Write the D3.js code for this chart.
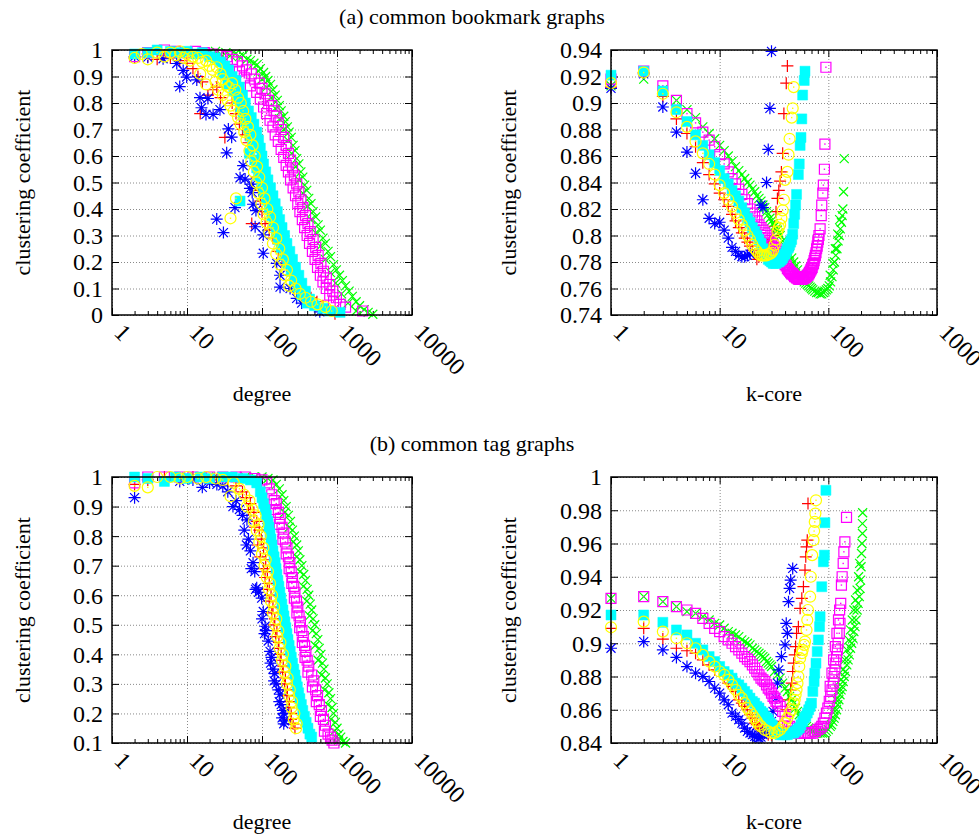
<!DOCTYPE html>
<html>
<head>
<meta charset="utf-8">
<script src="https://cdn.jsdelivr.net/npm/d3@7"></script>
<style>
  body { margin: 0; background: #fff; }
  svg { display: block; }
  text { font-family: "Liberation Serif", "Times New Roman", "DejaVu Serif", serif; }
</style>
</head>
<body>
<svg id="chart" width="979" height="839"></svg>
<script>
// ---------- tick labels ----------
const degreeTicks = [1, 10, 100, 1000, 10000];
const kcoreTicks = [1, 10, 100, 1000];
const bdYTicks = [0, 0.1, 0.2, 0.3, 0.4, 0.5, 0.6, 0.7, 0.8, 0.9, 1];
const bkYTicks = [0.74, 0.76, 0.78, 0.8, 0.82, 0.84, 0.86, 0.88, 0.9, 0.92, 0.94];
const tdYTicks = [0.1, 0.2, 0.3, 0.4, 0.5, 0.6, 0.7, 0.8, 0.9, 1];
const tkYTicks = [0.84, 0.86, 0.88, 0.9, 0.92, 0.94, 0.96, 0.98, 1];

// ---------- (a) bookmark graphs: degree vs clustering ----------
const bdRed = [[2,0.97],[3,0.975],[4,0.965],[5,0.98],[6,0.97],[8,0.96],[10,0.95],[12,0.93],[14,0.9],[16,0.88],[19,0.83],[15,0.76],[22,0.85],[25,0.86],[28,0.82],[32,0.67],[40,0.8],[45,0.76],[50,0.72],[55,0.7],[60,0.68],[66,0.65],[76,0.64],[81,0.56],[85,0.52],[90,0.47],[95,0.43],[100,0.39],[73,0.345],[110,0.345],[125,0.32],[140,0.29],[165,0.24],[185,0.21],[212,0.185],[240,0.15],[290,0.13],[330,0.1],[375,0.08],[450,0.065],[540,0.05],[650,0.035],[940,0.005]];
const bdGreen = [[20,0.99],[24,0.995],[28,0.985],[33,0.99],[38,0.98],[44,0.985],[50,0.975],[56,0.98],[63,0.965],[70,0.96],[78,0.95],[86,0.945],[95,0.93],[90,0.92],[105,0.915],[112,0.9],[100,0.89],[120,0.885],[130,0.87],[115,0.86],[140,0.85],[150,0.83],[132,0.82],[160,0.81],[170,0.79],[150,0.78],[180,0.77],[195,0.75],[172,0.74],[205,0.73],[218,0.71],[195,0.7],[230,0.69],[245,0.67],[220,0.66],[260,0.64],[275,0.62],[248,0.61],[290,0.59],[310,0.57],[280,0.56],[330,0.54],[350,0.52],[310,0.51],[370,0.49],[395,0.47],[350,0.46],[420,0.44],[450,0.42],[400,0.41],[480,0.39],[520,0.37],[450,0.36],[560,0.34],[600,0.32],[520,0.31],[650,0.29],[700,0.27],[600,0.26],[760,0.24],[820,0.22],[700,0.21],[900,0.19],[980,0.17],[820,0.16],[1080,0.15],[1180,0.13],[960,0.12],[1300,0.11],[1450,0.09],[1150,0.08],[1600,0.07],[1800,0.05],[1400,0.045],[2000,0.035],[2300,0.02],[1800,0.015],[2600,0.01],[3000,0.003]];
const bdBlue = [[2,0.975],[3,0.973],[4.8,0.967],[7.3,0.949],[8.9,0.923],[9.9,0.898],[8,0.862],[13.5,0.887],[14.9,0.82],[19,0.817],[15.6,0.782],[17.9,0.757],[22.3,0.757],[27.5,0.775],[35.6,0.702],[39.4,0.671],[33.8,0.612],[24.9,0.362],[30.6,0.311],[43.6,0.405],[51,0.518],[59.5,0.513],[56,0.564],[69,0.478],[73,0.494],[74,0.462],[76,0.418],[83,0.394],[81,0.333],[104,0.302],[104,0.233],[157,0.195],[174,0.15],[174,0.105],[237,0.1],[290,0.063],[338,0.045],[590,0.012]];
const bdMagenta = [[2,0.975],[3,0.99],[5,1.0],[7,0.995],[10,0.99],[13,0.995],[17,0.99],[22,0.985],[28,0.98],[34,0.975],[40,0.965],[47,0.955],[55,0.94],[50,0.92],[62,0.925],[72,0.91],[58,0.895],[80,0.89],[92,0.875],[70,0.865],[100,0.855],[85,0.84],[110,0.835],[95,0.815],[122,0.81],[135,0.79],[105,0.785],[145,0.77],[115,0.76],[155,0.75],[128,0.735],[165,0.725],[140,0.71],[180,0.7],[150,0.68],[195,0.67],[165,0.655],[210,0.64],[180,0.625],[225,0.61],[195,0.595],[240,0.585],[210,0.565],[255,0.555],[225,0.54],[270,0.525],[240,0.51],[290,0.495],[260,0.48],[310,0.465],[280,0.45],[330,0.435],[300,0.42],[350,0.405],[320,0.39],[380,0.375],[345,0.36],[410,0.345],[370,0.33],[440,0.315],[400,0.3],[480,0.285],[430,0.27],[520,0.255],[470,0.24],[560,0.225],[510,0.21],[610,0.195],[550,0.18],[660,0.165],[600,0.15],[720,0.14],[650,0.125],[800,0.115],[720,0.1],[880,0.09],[800,0.075],[980,0.065],[900,0.05],[1100,0.04],[1300,0.03],[2200,0.015]];
const bdCyan = [[2,0.985],[3,0.99],[4,1.0],[6,0.995],[8,0.99],[10,0.995],[13,0.985],[16,0.99],[20,0.975],[24,0.97],[28,0.955],[32,0.94],[36,0.925],[30,0.91],[40,0.9],[45,0.885],[35,0.87],[50,0.86],[42,0.845],[55,0.83],[48,0.815],[60,0.8],[52,0.785],[66,0.77],[56,0.755],[72,0.745],[60,0.73],[78,0.72],[65,0.705],[85,0.69],[70,0.675],[90,0.66],[75,0.645],[95,0.63],[68,0.61],[100,0.6],[80,0.585],[105,0.57],[85,0.555],[112,0.54],[90,0.525],[120,0.51],[98,0.495],[130,0.48],[105,0.465],[140,0.45],[51,0.43],[115,0.435],[150,0.42],[125,0.405],[160,0.39],[135,0.375],[172,0.36],[145,0.345],[185,0.33],[155,0.315],[200,0.3],[165,0.285],[215,0.27],[180,0.255],[235,0.24],[200,0.225],[255,0.21],[220,0.195],[280,0.18],[245,0.165],[310,0.15],[270,0.135],[340,0.12],[300,0.105],[380,0.09],[340,0.075],[430,0.06],[400,0.045],[500,0.035],[650,0.025],[800,0.015],[1100,0.01]];
const bdYellow = [[2,0.97],[2.5,0.985],[3,0.965],[4,0.99],[5,0.975],[6,0.99],[7,0.98],[8,0.995],[9,0.97],[10,0.985],[11,0.96],[12,0.975],[14,0.97],[16,0.955],[18,0.96],[20,0.94],[15,0.91],[22,0.925],[25,0.935],[28,0.91],[18,0.87],[24,0.88],[30,0.89],[33,0.87],[26,0.85],[36,0.86],[40,0.875],[30,0.83],[44,0.85],[35,0.81],[48,0.82],[38,0.79],[52,0.8],[42,0.77],[56,0.77],[48,0.745],[60,0.74],[52,0.72],[65,0.71],[58,0.69],[70,0.68],[62,0.66],[75,0.64],[68,0.62],[80,0.6],[72,0.58],[86,0.56],[78,0.54],[92,0.52],[84,0.5],[100,0.48],[90,0.46],[108,0.44],[98,0.42],[118,0.4],[105,0.38],[128,0.37],[45,0.44],[38,0.365],[115,0.35],[140,0.33],[125,0.31],[155,0.29],[140,0.27],[170,0.25],[155,0.23],[190,0.21],[175,0.19],[215,0.17],[200,0.15],[245,0.13],[230,0.11],[280,0.1],[320,0.08],[380,0.065],[450,0.05],[550,0.04],[700,0.03],[850,0.015]];

// ---------- (a) bookmark graphs: k-core vs clustering ----------
const bkRed = [[1,0.912],[2,0.923],[3,0.905],[4,0.888],[5,0.877],[6,0.867],[7,0.855],[8,0.846],[9,0.839],[10,0.832],[11,0.827],[12,0.822],[13,0.816],[14,0.811],[15,0.806],[16,0.802],[17,0.798],[18,0.795],[19,0.792],[20,0.789],[21,0.786],[22,0.782],[23,0.784],[24,0.786],[25,0.787],[26,0.788],[27,0.79],[28,0.792],[29,0.795],[30,0.797],[31,0.8],[32,0.807],[33,0.818],[34,0.828],[35,0.834],[36,0.841],[37,0.848],[38,0.862],[39,0.892],[41,0.915],[42,0.928]];
const bkGreen = [[1,0.913],[2,0.918],[3,0.91],[4,0.902],[5,0.895],[6,0.889],[7,0.882],[8,0.877],[9,0.873],[10,0.868],[11,0.864],[12,0.86],[13,0.856],[14,0.852],[15,0.849],[16,0.846],[17,0.843],[18,0.84],[19,0.838],[20,0.835],[21,0.833],[22,0.83],[23,0.828],[24,0.826],[25,0.823],[26,0.821],[27,0.818],[28,0.816],[29,0.813],[30,0.811],[31,0.809],[32,0.807],[33,0.805],[34,0.804],[35,0.802],[36,0.8],[38,0.796],[40,0.792],[42,0.789],[44,0.786],[46,0.783],[48,0.78],[50,0.777],[52,0.774],[54,0.771],[56,0.769],[58,0.767],[60,0.765],[62,0.764],[64,0.763],[66,0.762],[68,0.761],[70,0.76],[72,0.759],[75,0.758],[78,0.757],[81,0.757],[84,0.756],[87,0.756],[90,0.757],[93,0.758],[96,0.759],[99,0.76],[102,0.762],[105,0.765],[108,0.769],[111,0.774],[114,0.78],[117,0.785],[120,0.79],[123,0.796],[126,0.8],[129,0.805],[132,0.81],[134,0.815],[136,0.82],[138,0.833],[140,0.858],[104,0.77],[110,0.779],[116,0.79],[122,0.801],[127,0.812]];
const bkBlue = [[1,0.911],[2,0.922],[3,0.897],[4,0.878],[5,0.863],[6,0.847],[7,0.827],[8,0.813],[9,0.809],[10,0.81],[11,0.804],[12,0.798],[13,0.791],[14,0.788],[15,0.785],[16,0.784],[17,0.784],[18,0.785],[19,0.786],[22,0.8],[24,0.823],[25,0.821],[27,0.84],[28,0.865],[29,0.896],[30,0.939]];
const bkMagenta = [[1,0.918],[2,0.924],[3,0.913],[4,0.902],[5,0.892],[6,0.885],[7,0.878],[8,0.872],[9,0.867],[10,0.861],[11,0.854],[12,0.848],[13,0.843],[14,0.839],[15,0.835],[16,0.831],[17,0.827],[18,0.824],[19,0.82],[20,0.817],[21,0.814],[22,0.811],[23,0.808],[24,0.806],[25,0.804],[26,0.802],[27,0.8],[28,0.798],[29,0.796],[30,0.794],[31,0.793],[32,0.791],[33,0.79],[34,0.788],[35,0.786],[36,0.785],[37,0.783],[38,0.781],[39,0.78],[40,0.778],[41,0.777],[42,0.775],[43,0.774],[44,0.773],[45,0.772],[46,0.771],[47,0.771],[48,0.77],[49,0.769],[50,0.769],[51,0.768],[52,0.768],[53,0.767],[54,0.767],[55,0.767],[56,0.767],[57,0.767],[58,0.767],[59,0.768],[60,0.768],[61,0.768],[62,0.769],[63,0.769],[64,0.77],[65,0.77],[66,0.771],[67,0.772],[68,0.773],[69,0.774],[70,0.775],[71,0.776],[72,0.778],[73,0.779],[74,0.781],[75,0.783],[76,0.785],[77,0.787],[78,0.79],[79,0.792],[80,0.795],[81,0.797],[82,0.8],[84,0.805],[86,0.815],[87,0.823],[89,0.832],[90,0.838],[92,0.85],[93,0.869],[95,0.927]];
const bkCyan = [[1,0.921],[2,0.924],[3,0.909],[4,0.895],[5,0.886],[6,0.876],[7,0.868],[8,0.861],[9,0.855],[10,0.849],[11,0.843],[12,0.839],[13,0.834],[14,0.83],[15,0.826],[16,0.821],[17,0.817],[18,0.813],[19,0.81],[20,0.806],[21,0.803],[22,0.8],[23,0.797],[24,0.794],[25,0.79],[26,0.787],[27,0.785],[28,0.782],[29,0.781],[30,0.78],[31,0.779],[32,0.779],[33,0.779],[34,0.78],[35,0.78],[36,0.781],[37,0.782],[38,0.783],[39,0.785],[40,0.786],[41,0.788],[42,0.79],[43,0.791],[44,0.793],[45,0.795],[46,0.797],[47,0.801],[48,0.809],[49,0.816],[50,0.823],[51,0.831],[53,0.846],[54,0.854],[55,0.868],[56,0.874],[57,0.888],[58,0.906],[60,0.917],[61,0.924]];
const bkYellow = [[1,0.915],[2,0.923],[3,0.907],[4,0.893],[5,0.882],[6,0.871],[7,0.862],[8,0.854],[9,0.846],[10,0.838],[11,0.832],[12,0.827],[13,0.822],[14,0.817],[15,0.812],[16,0.808],[17,0.804],[18,0.8],[19,0.797],[20,0.793],[21,0.79],[22,0.788],[23,0.786],[24,0.785],[25,0.785],[26,0.785],[27,0.785],[28,0.786],[29,0.786],[30,0.787],[31,0.789],[32,0.793],[33,0.797],[34,0.803],[35,0.806],[36,0.808],[37,0.813],[38,0.819],[39,0.827],[40,0.842],[42,0.848],[43,0.861],[44,0.873],[46,0.889],[47,0.896],[48,0.912]];

// ---------- (b) tag graphs: degree vs clustering ----------
const tdRed = [[2,0.975],[3,0.99],[5,1.0],[8,0.995],[12,1.0],[18,0.995],[25,0.99],[35,0.985],[45,0.97],[55,0.95],[62,0.93],[70,0.91],[66,0.89],[78,0.88],[85,0.85],[80,0.83],[92,0.82],[98,0.79],[88,0.77],[105,0.76],[95,0.73],[112,0.72],[105,0.69],[118,0.68],[110,0.66],[125,0.64],[118,0.62],[132,0.6],[125,0.58],[140,0.56],[135,0.54],[148,0.52],[145,0.5],[158,0.48],[152,0.46],[168,0.44],[165,0.42],[180,0.4],[175,0.38],[192,0.36],[188,0.34],[205,0.32],[200,0.3],[218,0.28],[215,0.26],[232,0.24],[228,0.22],[245,0.2],[242,0.18],[260,0.165],[275,0.15]];
const tdGreen = [[10,1.0],[15,1.0],[25,1.0],[40,1.0],[60,1.0],[80,1.0],[100,1.0],[120,0.995],[140,0.99],[155,0.975],[170,0.96],[185,0.94],[195,0.92],[210,0.9],[200,0.88],[225,0.87],[240,0.85],[230,0.83],[255,0.82],[270,0.8],[260,0.78],[290,0.77],[305,0.75],[290,0.73],[320,0.72],[340,0.7],[320,0.68],[360,0.67],[380,0.65],[355,0.63],[400,0.62],[420,0.6],[395,0.58],[440,0.57],[460,0.55],[430,0.53],[480,0.52],[505,0.5],[470,0.48],[530,0.47],[555,0.45],[510,0.43],[580,0.42],[610,0.4],[560,0.38],[640,0.37],[670,0.35],[620,0.33],[700,0.32],[740,0.3],[680,0.28],[780,0.27],[820,0.25],[750,0.23],[860,0.22],[900,0.2],[830,0.18],[950,0.17],[1000,0.15],[920,0.14],[1060,0.13],[1120,0.12],[1050,0.11],[1200,0.105],[1300,0.1]];
const tdBlue = [[2,0.93],[8,0.985],[12,0.99],[16,0.965],[20,0.98],[25,0.975],[30,0.97],[35,0.95],[41,0.9],[45,0.92],[50,0.89],[55,0.87],[63,0.855],[58,0.82],[66,0.79],[62,0.77],[70,0.75],[76,0.71],[72,0.69],[80,0.68],[85,0.625],[82,0.62],[90,0.61],[99,0.59],[104,0.545],[100,0.52],[110,0.495],[108,0.47],[112,0.48],[121,0.445],[128,0.41],[134,0.39],[130,0.37],[140,0.35],[148,0.335],[145,0.31],[155,0.3],[165,0.28],[174,0.265],[170,0.24],[180,0.23],[190,0.21],[195,0.2],[185,0.185],[200,0.175],[195,0.165]];
const tdMagenta = [[2,0.98],[3,1.0],[5,1.0],[8,1.0],[12,1.0],[20,1.0],[30,1.0],[45,1.0],[60,1.0],[80,0.995],[100,0.99],[115,0.98],[125,0.96],[135,0.94],[145,0.92],[155,0.91],[150,0.89],[165,0.88],[175,0.86],[170,0.84],[185,0.83],[195,0.81],[190,0.79],[205,0.78],[215,0.76],[210,0.74],[225,0.73],[235,0.71],[230,0.69],[245,0.68],[255,0.66],[250,0.64],[265,0.63],[275,0.61],[270,0.59],[288,0.58],[300,0.56],[292,0.54],[312,0.53],[325,0.51],[318,0.49],[340,0.48],[355,0.46],[345,0.44],[370,0.43],[385,0.41],[375,0.39],[400,0.38],[420,0.36],[410,0.34],[460,0.33],[490,0.31],[470,0.29],[520,0.28],[550,0.26],[530,0.24],[580,0.23],[620,0.21],[600,0.19],[660,0.18],[700,0.16],[680,0.14],[760,0.13],[820,0.12],[860,0.11],[910,0.1]];
const tdCyan = [[2,1.0],[3,0.995],[5,0.985],[7,1.0],[10,0.995],[15,1.0],[20,0.995],[30,1.0],[40,1.0],[55,0.995],[70,0.99],[85,0.98],[95,0.95],[100,0.93],[105,0.91],[110,0.89],[115,0.87],[120,0.85],[124,0.83],[128,0.81],[132,0.79],[136,0.77],[140,0.75],[145,0.73],[150,0.71],[154,0.69],[158,0.67],[163,0.65],[168,0.63],[173,0.61],[178,0.59],[184,0.57],[190,0.55],[196,0.53],[202,0.51],[208,0.49],[215,0.47],[222,0.45],[230,0.43],[238,0.41],[246,0.39],[255,0.37],[265,0.35],[275,0.33],[285,0.31],[296,0.29],[308,0.27],[320,0.25],[335,0.23],[350,0.21],[368,0.19],[388,0.17],[410,0.15],[435,0.13],[460,0.12]];
const tdYellow = [[2,0.97],[3,0.965],[4,1.0],[6,1.0],[8,0.995],[10,1.0],[14,0.995],[18,1.0],[24,0.995],[30,0.99],[38,0.935],[42,0.98],[50,0.96],[58,0.94],[63,0.9],[68,0.92],[75,0.89],[82,0.87],[78,0.85],[90,0.84],[85,0.82],[96,0.8],[92,0.78],[104,0.76],[100,0.74],[112,0.72],[108,0.7],[120,0.68],[116,0.66],[128,0.64],[124,0.62],[136,0.6],[132,0.58],[145,0.56],[140,0.54],[155,0.52],[150,0.5],[165,0.48],[160,0.46],[176,0.44],[172,0.42],[190,0.4],[185,0.38],[205,0.36],[200,0.34],[220,0.32],[215,0.3],[235,0.28],[230,0.26],[252,0.24],[248,0.22],[270,0.2],[265,0.18],[290,0.165],[285,0.15]];

// ---------- (b) tag graphs: k-core vs clustering ----------
const tkRed = [[1,0.909],[2,0.909],[3,0.9025],[4,0.897],[5,0.8955],[6,0.894],[7,0.89],[8,0.887],[9,0.884],[10,0.8835],[11,0.88],[12,0.876],[13,0.874],[14,0.871],[15,0.866],[16,0.864],[17,0.862],[18,0.86],[19,0.857],[20,0.855],[21,0.852],[22,0.851],[23,0.849],[24,0.848],[25,0.847],[26,0.846],[28,0.845],[30,0.845],[32,0.846],[35,0.849],[38,0.853],[41,0.86],[43,0.866],[45,0.872],[46,0.876],[47,0.883],[48,0.888],[49,0.893],[50,0.898],[51,0.906],[53,0.91],[55,0.921],[57,0.927],[59,0.934],[61,0.944],[62,0.952],[63,0.958],[64,0.962],[65,0.984]];
const tkGreen = [[1,0.927],[2,0.928],[3,0.925],[4,0.922],[5,0.919],[6,0.918],[7,0.916],[8,0.914],[9,0.912],[10,0.911],[11,0.909],[12,0.907],[13,0.906],[14,0.905],[15,0.904],[16,0.902],[17,0.901],[18,0.9],[19,0.899],[20,0.897],[21,0.896],[22,0.895],[23,0.894],[24,0.893],[25,0.892],[26,0.891],[27,0.889],[28,0.888],[29,0.887],[30,0.886],[32,0.883],[34,0.881],[36,0.879],[38,0.876],[40,0.873],[42,0.871],[44,0.868],[46,0.866],[48,0.864],[50,0.861],[52,0.859],[54,0.857],[56,0.855],[58,0.853],[60,0.852],[63,0.85],[66,0.849],[69,0.848],[72,0.847],[76,0.846],[80,0.846],[84,0.846],[88,0.846],[92,0.846],[96,0.847],[100,0.848],[104,0.85],[107,0.851],[110,0.853],[113,0.855],[116,0.857],[119,0.86],[122,0.863],[125,0.866],[128,0.869],[131,0.872],[134,0.874],[137,0.877],[140,0.88],[144,0.883],[148,0.887],[152,0.89],[156,0.893],[160,0.897],[164,0.9],[168,0.903],[172,0.907],[176,0.91],[180,0.914],[184,0.92],[188,0.924],[193,0.928],[196,0.933],[198,0.938],[200,0.946],[202,0.954],[204,0.96],[206,0.966],[206,0.972],[207,0.9785],[112,0.86],[118,0.866],[124,0.872],[130,0.878],[136,0.884],[142,0.89],[148,0.896],[154,0.902],[160,0.908],[166,0.914],[172,0.92],[178,0.926],[184,0.932],[190,0.94],[194,0.948]];
const tkBlue = [[1,0.897],[2,0.901],[3,0.896],[4,0.8915],[5,0.886],[6,0.882],[7,0.88],[8,0.877],[9,0.873],[10,0.87],[11,0.866],[12,0.863],[13,0.858],[14,0.856],[15,0.854],[16,0.852],[17,0.849],[18,0.847],[19,0.846],[20,0.845],[21,0.844],[22,0.8435],[23,0.843],[24,0.8435],[25,0.845],[26,0.846],[27,0.847],[28,0.848],[30,0.853],[31,0.859],[33,0.867],[34,0.876],[35,0.884],[37,0.892],[40,0.899],[42,0.906],[41,0.912],[43,0.925],[44,0.933],[45,0.938],[47,0.945]];
const tkMagenta = [[1,0.927],[2,0.928],[3,0.925],[4,0.922],[5,0.92],[6,0.918],[7,0.915],[8,0.912],[9,0.909],[10,0.907],[11,0.904],[12,0.902],[13,0.9],[14,0.898],[15,0.896],[16,0.894],[17,0.892],[18,0.8905],[19,0.889],[20,0.887],[21,0.885],[22,0.883],[23,0.881],[24,0.879],[25,0.878],[26,0.877],[27,0.875],[28,0.873],[29,0.872],[30,0.87],[31,0.868],[32,0.867],[33,0.865],[34,0.864],[36,0.862],[38,0.859],[40,0.856],[42,0.853],[44,0.85],[46,0.849],[48,0.847],[50,0.847],[53,0.846],[56,0.846],[60,0.846],[64,0.846],[68,0.846],[72,0.846],[76,0.847],[80,0.848],[84,0.849],[87,0.85],[90,0.852],[93,0.855],[96,0.858],[99,0.861],[102,0.865],[105,0.868],[108,0.872],[111,0.876],[113,0.88],[115,0.884],[117,0.888],[119,0.892],[121,0.896],[123,0.9],[126,0.906],[128,0.912],[130,0.924],[132,0.935],[134,0.94],[137,0.948],[139,0.955],[142,0.961],[147,0.9757],[104,0.874],[108,0.882],[112,0.89],[116,0.898],[120,0.906],[124,0.914],[127,0.92]];
const tkCyan = [[1,0.917],[2,0.917],[3,0.9126],[4,0.908],[5,0.905],[6,0.9],[7,0.896],[8,0.892],[9,0.889],[10,0.886],[11,0.883],[12,0.881],[13,0.879],[14,0.876],[15,0.875],[16,0.873],[17,0.871],[18,0.869],[19,0.867],[20,0.865],[21,0.864],[22,0.862],[23,0.861],[24,0.859],[25,0.858],[26,0.856],[27,0.855],[28,0.854],[29,0.852],[30,0.851],[31,0.85],[32,0.848],[33,0.847],[34,0.846],[36,0.845],[38,0.845],[40,0.845],[42,0.845],[44,0.846],[46,0.846],[48,0.846],[50,0.847],[52,0.848],[54,0.849],[56,0.851],[58,0.853],[60,0.855],[62,0.856],[64,0.858],[66,0.86],[68,0.862],[70,0.864],[72,0.871],[74,0.877],[75,0.882],[77,0.888],[79,0.895],[81,0.902],[83,0.91],[84,0.916],[87,0.934],[90,0.949],[92,0.953],[93,0.9725],[95,0.992]];
const tkYellow = [[1,0.9096],[2,0.913],[3,0.907],[4,0.903],[5,0.9],[6,0.897],[7,0.893],[8,0.889],[9,0.886],[10,0.883],[11,0.881],[12,0.878],[13,0.875],[14,0.872],[15,0.869],[16,0.867],[17,0.864],[18,0.861],[19,0.859],[20,0.857],[21,0.855],[22,0.853],[23,0.851],[24,0.85],[26,0.848],[28,0.847],[30,0.846],[32,0.846],[34,0.847],[36,0.848],[38,0.85],[40,0.852],[42,0.855],[44,0.858],[46,0.86],[48,0.864],[49,0.866],[50,0.869],[51,0.872],[52,0.876],[53,0.88],[54,0.886],[55,0.891],[57,0.894],[58,0.896],[60,0.899],[61,0.901],[63,0.908],[64,0.914],[65,0.92],[68,0.928],[69,0.94],[71,0.953],[73,0.962],[74,0.9675],[75,0.973],[76,0.978],[77,0.986]];

// ---------- series styling (gnuplot line types 1..6) ----------
const seriesStyles = [
  { key: "red",     color: "#ff0000", marker: "plus" },
  { key: "green",   color: "#00ff00", marker: "cross" },
  { key: "blue",    color: "#0000ff", marker: "star" },
  { key: "magenta", color: "#ff00ff", marker: "box" },
  { key: "cyan",    color: "#00ffff", marker: "boxFilled" },
  { key: "yellow",  color: "#ffff00", marker: "circle" }
];

const panels = [
  { left: 112, right: 412, top: 50, bottom: 315, xDomain: [1, 10000], yDomain: [0, 1],
    xTicks: degreeTicks, yTicks: bdYTicks, xLabel: "degree", yLabelX: 30,
    series: { red: bdRed, green: bdGreen, blue: bdBlue, magenta: bdMagenta, cyan: bdCyan, yellow: bdYellow } },
  { left: 611, right: 937, top: 50, bottom: 315, xDomain: [1, 1000], yDomain: [0.74, 0.94],
    xTicks: kcoreTicks, yTicks: bkYTicks, xLabel: "k-core", yLabelX: 516,
    series: { red: bkRed, green: bkGreen, blue: bkBlue, magenta: bkMagenta, cyan: bkCyan, yellow: bkYellow } },
  { left: 112, right: 412, top: 477, bottom: 743, xDomain: [1, 10000], yDomain: [0.1, 1],
    xTicks: degreeTicks, yTicks: tdYTicks, xLabel: "degree", yLabelX: 30,
    series: { red: tdRed, green: tdGreen, blue: tdBlue, magenta: tdMagenta, cyan: tdCyan, yellow: tdYellow } },
  { left: 611, right: 937, top: 477, bottom: 743, xDomain: [1, 1000], yDomain: [0.84, 1],
    xTicks: kcoreTicks, yTicks: tkYTicks, xLabel: "k-core", yLabelX: 516,
    series: { red: tkRed, green: tkGreen, blue: tkBlue, magenta: tkMagenta, cyan: tkCyan, yellow: tkYellow } }
];

const svg = d3.select("#chart");
const FONT = 22;       // titles and axis names
const TICK_FONT = 24;  // numeric tick labels

// panel titles
svg.append("text").attr("x", 472).attr("y", 24).attr("text-anchor", "middle")
  .attr("font-size", FONT).text("(a) common bookmark graphs");
svg.append("text").attr("x", 472).attr("y", 451).attr("text-anchor", "middle")
  .attr("font-size", FONT).text("(b) common tag graphs");

function markerPath(type) {
  switch (type) {
    case "plus":  return "M-6,0H6M0,-6V6";
    case "cross": return "M-4.5,-4.5L4.5,4.5M-4.5,4.5L4.5,-4.5";
    case "star":  return "M-6,0H6M0,-6V6M-4.5,-4.5L4.5,4.5M-4.5,4.5L4.5,-4.5";
    case "box":
    case "boxFilled": return "M-5,-5H5V5H-5Z";
    case "circle": return d3.arc()({ innerRadius: 0, outerRadius: 5.5, startAngle: 0, endAngle: 2 * Math.PI });
  }
}

function fmtTick(v) { return String(+v.toFixed(2)); }

function drawPanel(p) {
  const x = d3.scaleLog().domain(p.xDomain).range([p.left, p.right]);
  const y = d3.scaleLinear().domain(p.yDomain).range([p.bottom, p.top]);
  const h = p.bottom - p.top, w = p.right - p.left;
  const g = svg.append("g");

  // dotted grid at major ticks
  const gridX = g.append("g").attr("transform", `translate(0,${p.bottom})`)
    .call(d3.axisBottom(x).tickValues(p.xTicks).tickSize(-h).tickFormat(""));
  const gridY = g.append("g").attr("transform", `translate(${p.left},0)`)
    .call(d3.axisLeft(y).tickValues(p.yTicks).tickSize(-w).tickFormat(""));
  [gridX, gridY].forEach(s => {
    s.select(".domain").remove();
    s.selectAll("line").attr("stroke", "#8a8a8a").attr("stroke-width", 1).attr("stroke-dasharray", "1,2");
  });

  // inward major & minor ticks on all four sides
  const minor = x.ticks().filter(v => !p.xTicks.includes(v));
  const tickSets = [
    g.append("g").attr("transform", `translate(0,${p.bottom})`).call(d3.axisBottom(x).tickValues(p.xTicks).tickSize(-7).tickFormat("")),
    g.append("g").attr("transform", `translate(0,${p.bottom})`).call(d3.axisBottom(x).tickValues(minor).tickSize(-4).tickFormat("")),
    g.append("g").attr("transform", `translate(0,${p.top})`).call(d3.axisTop(x).tickValues(p.xTicks).tickSize(-7).tickFormat("")),
    g.append("g").attr("transform", `translate(0,${p.top})`).call(d3.axisTop(x).tickValues(minor).tickSize(-4).tickFormat("")),
    g.append("g").attr("transform", `translate(${p.left},0)`).call(d3.axisLeft(y).tickValues(p.yTicks).tickSize(-7).tickFormat("")),
    g.append("g").attr("transform", `translate(${p.right},0)`).call(d3.axisRight(y).tickValues(p.yTicks).tickSize(-7).tickFormat(""))
  ];
  tickSets.forEach(s => {
    s.select(".domain").remove();
    s.selectAll("line").attr("stroke", "#000").attr("stroke-width", 1);
  });

  // y tick labels
  g.append("g").selectAll("text").data(p.yTicks).join("text")
    .attr("x", p.left - 9).attr("y", d => y(d)).attr("dy", "0.35em")
    .attr("text-anchor", "end").attr("font-size", TICK_FONT).text(fmtTick);

  // x tick labels, rotated 45 degrees
  g.append("g").selectAll("text").data(p.xTicks).join("text")
    .attr("transform", d => `translate(${x(d) + 1},${p.bottom + 19}) rotate(45)`)
    .attr("font-size", TICK_FONT).text(d => String(d));

  // axis titles
  g.append("text").attr("x", (p.left + p.right) / 2).attr("y", p.bottom + 86)
    .attr("text-anchor", "middle").attr("font-size", FONT).text(p.xLabel);
  g.append("text").attr("transform", `translate(${p.yLabelX},${(p.top + p.bottom) / 2}) rotate(-90)`)
    .attr("text-anchor", "middle").attr("font-size", FONT).text("clustering coefficient");

  // data points
  seriesStyles.forEach(st => {
    const pts = g.append("g").selectAll("g").data(p.series[st.key]).join("g")
      .attr("transform", d => `translate(${x(d[0])},${y(d[1])})`);
    const filled = st.marker === "boxFilled";
    pts.append("path").attr("d", markerPath(st.marker))
      .attr("fill", filled ? st.color : "none")
      .attr("stroke", st.color).attr("stroke-width", filled ? 0.5 : 1.2);
    if (st.marker === "box" || st.marker === "circle") {
      pts.append("rect").attr("x", -0.7).attr("y", -0.7).attr("width", 1.4).attr("height", 1.4).attr("fill", st.color);
    }
  });

  // border
  g.append("rect").attr("x", p.left).attr("y", p.top).attr("width", w).attr("height", h)
    .attr("fill", "none").attr("stroke", "#000").attr("stroke-width", 1.5);
}

panels.forEach(drawPanel);
</script>
</body>
</html>
